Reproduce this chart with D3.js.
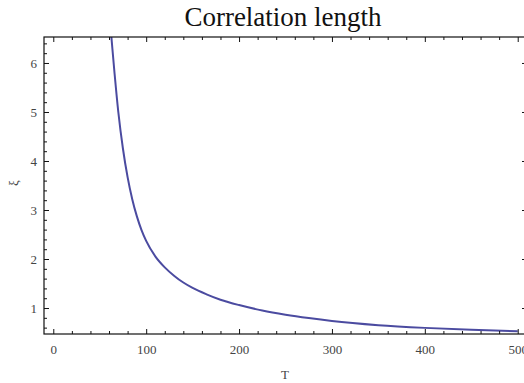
<!DOCTYPE html>
<html>
<head>
<meta charset="utf-8">
<script src="https://cdn.jsdelivr.net/npm/d3@7"></script>
<style>
  html, body { margin: 0; padding: 0; background: #fff; }
  svg { display: block; }
  text { font-family: "Liberation Serif", "Times New Roman", serif; }
</style>
</head>
<body>
<svg id="chart" width="524" height="383"></svg>
<script>
// ---- data ----
const temperatures = [62, 63, 66, 70, 75, 80, 85, 90, 95, 100, 110, 120, 130, 140, 150, 165, 180, 200, 225, 250, 275, 300, 350, 400, 450, 500];
const corrLength   = [6.65, 6.43, 5.78, 5.0, 4.25, 3.67, 3.22, 2.87, 2.59, 2.37, 2.05, 1.83, 1.66, 1.52, 1.41, 1.28, 1.17, 1.06, 0.95, 0.865, 0.795, 0.735, 0.65, 0.595, 0.555, 0.525];
const xMajorTicks = [0, 100, 200, 300, 400, 500];
const yMajorTicks = [1, 2, 3, 4, 5, 6];
const titleText = "Correlation length";
const xLabel = "T";
const yLabel = "ξ";

(function () {
const serif = '"Liberation Serif", "Times New Roman", serif';
const svg = d3.select("#chart");
const pL = 44, pR = 527, pT = 37, pB = 334;

const x = d3.scaleLinear().domain([-10, 510]).range([pL, pR]);
const y = d3.scaleLinear().domain([0.47, 6.53]).range([pB, pT]);

const xMinor = d3.range(0, 501, 20).filter(v => !xMajorTicks.includes(v));
const yMinor = d3.range(0.6, 6.51, 0.2).map(v => +v.toFixed(1)).filter(v => !yMajorTicks.includes(v));

// clip
svg.append("defs").append("clipPath").attr("id", "plotclip")
  .append("rect").attr("x", pL).attr("y", pT).attr("width", pR - pL).attr("height", pB - pT);

// curve
const line = d3.line().x((d, i) => x(temperatures[i])).y(d => y(d)).curve(d3.curveMonotoneX);
svg.append("path")
  .datum(corrLength)
  .attr("clip-path", "url(#plotclip)")
  .attr("fill", "none")
  .attr("stroke", "#4b4ba0")
  .attr("stroke-width", 2)
  .attr("d", line);

function styleAxis(g) {
  g.selectAll(".domain").remove();
  g.selectAll(".tick line").attr("stroke", "#111").attr("stroke-width", 1);
  g.selectAll(".tick text").attr("fill", "#444").style("font-size", "13px")
    .style("font-family", serif);
}

// bottom axis
const gB = svg.append("g").attr("transform", `translate(0,${pB})`)
  .call(d3.axisBottom(x).tickValues(xMajorTicks).tickSizeInner(-5).tickSizeOuter(0).tickPadding(11).tickFormat(d3.format("d")));
styleAxis(gB);
const gBm = svg.append("g").attr("transform", `translate(0,${pB})`)
  .call(d3.axisBottom(x).tickValues(xMinor).tickSizeInner(-3).tickSizeOuter(0).tickFormat(""));
styleAxis(gBm);

// top axis
const gT = svg.append("g").attr("transform", `translate(0,${pT})`)
  .call(d3.axisTop(x).tickValues(xMajorTicks).tickSizeInner(-5).tickSizeOuter(0).tickFormat(""));
styleAxis(gT);
const gTm = svg.append("g").attr("transform", `translate(0,${pT})`)
  .call(d3.axisTop(x).tickValues(xMinor).tickSizeInner(-3).tickSizeOuter(0).tickFormat(""));
styleAxis(gTm);

// left axis
const gL = svg.append("g").attr("transform", `translate(${pL},0)`)
  .call(d3.axisLeft(y).tickValues(yMajorTicks).tickSizeInner(-5).tickSizeOuter(0).tickPadding(7).tickFormat(d3.format("d")));
styleAxis(gL);
const gLm = svg.append("g").attr("transform", `translate(${pL},0)`)
  .call(d3.axisLeft(y).tickValues(yMinor).tickSizeInner(-3).tickSizeOuter(0).tickFormat(""));
styleAxis(gLm);

// right axis
const gR = svg.append("g").attr("transform", `translate(${pR},0)`)
  .call(d3.axisRight(y).tickValues(yMajorTicks).tickSizeInner(-5).tickSizeOuter(0).tickFormat(""));
styleAxis(gR);
const gRm = svg.append("g").attr("transform", `translate(${pR},0)`)
  .call(d3.axisRight(y).tickValues(yMinor).tickSizeInner(-3).tickSizeOuter(0).tickFormat(""));
styleAxis(gRm);

// frame
svg.append("rect")
  .attr("x", pL).attr("y", pT).attr("width", pR - pL).attr("height", pB - pT)
  .attr("fill", "none").attr("stroke", "#111").attr("stroke-width", 1.2);

// title
svg.append("text")
  .attr("x", 283).attr("y", 26)
  .attr("text-anchor", "middle")
  .style("font-family", serif)
  .style("font-size", "27px")
  .attr("fill", "#111")
  .text(titleText);

// axis labels
svg.append("text")
  .attr("x", 285).attr("y", 379)
  .attr("text-anchor", "middle")
  .style("font-family", serif)
  .style("font-size", "13px")
  .attr("fill", "#444")
  .text(xLabel);

svg.append("text")
  .attr("transform", "translate(18,183) rotate(-90)")
  .attr("text-anchor", "middle")
  .style("font-family", serif)
  .style("font-size", "13px")
  .attr("fill", "#444")
  .text(yLabel);
})();
</script>
</body>
</html>
